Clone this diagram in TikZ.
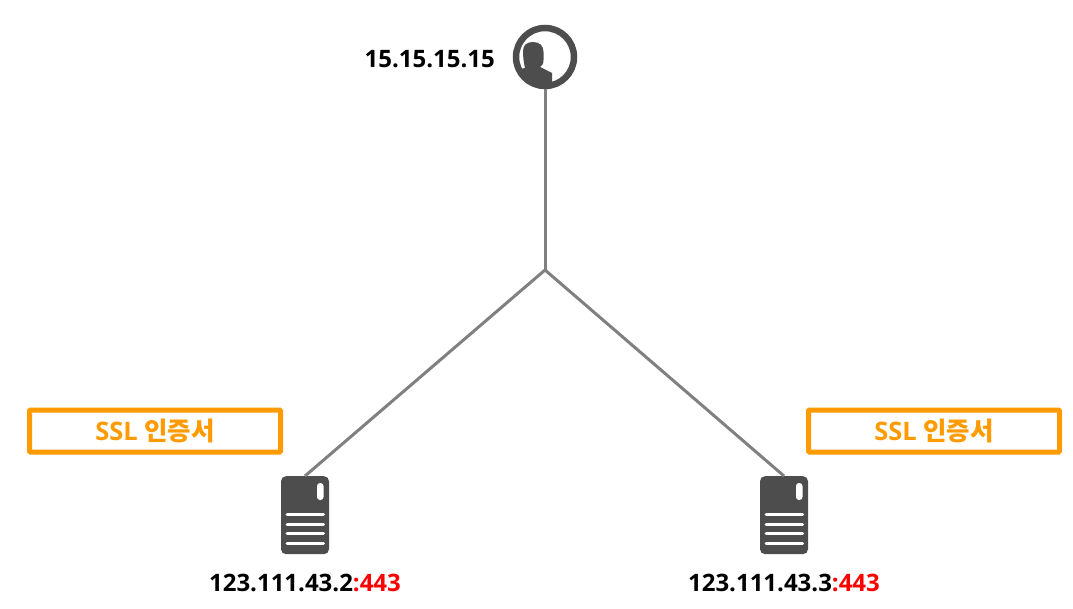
\documentclass[tikz,border=0pt]{standalone}
\usepackage{fontspec}
\setmainfont{Open Sans}
\newfontfamily\cjk{Noto Sans CJK KR}
\definecolor{ico}{HTML}{4D4D4D}
\definecolor{conn}{HTML}{808080}
\definecolor{cert}{HTML}{FF9B00}
\tikzset{
  conn/.style={draw=conn,line width=3pt},
  certbox/.style={draw=cert,line width=5pt,rounded corners=1pt,fill=white,minimum width=251pt,minimum height=42pt,inner sep=0pt,text=cert,font=\fontsize{25.5}{28}\selectfont\bfseries},
  iplabel/.style={inner sep=0pt,font=\fontsize{24}{26}\selectfont\bfseries,text=black},
  srv/.style={fill=ico,draw=none,rounded corners=5pt,minimum width=48pt,minimum height=78pt,inner sep=0pt},
  usr/.style={circle,draw=ico,line width=6.5pt,minimum size=58pt,inner sep=0pt,fill=white},
}
\begin{document}
\begin{tikzpicture}[x=1pt,y=-1pt]
\useasboundingbox (0,0) rectangle (1073,608);
\coordinate (fork) at (545,270);
\node[usr] (user) at (545,57) {};
\begin{scope}
  \clip (545,57) circle (29pt);
  \fill[ico] (525,68) .. controls (523.5,62) and (523,56) .. (523,51) .. controls (523,45) and (527,42) .. (533,42)
    .. controls (540,42) and (543.5,46) .. (543.5,52) -- (543.5,60) .. controls (543.5,64) and (542,66) .. (540,67)
    -- (552,73) -- (552,90) -- (510,90) -- (510,71) -- cycle;
\end{scope}
\node[srv,anchor=north] (s1) at (305,476) {};
\node[srv,anchor=north] (s2) at (784,476) {};
\fill[white,rounded corners=3pt] (317,483) rectangle (323.5,500);
\fill[white,rounded corners=3pt] (796,483) rectangle (802.5,500);
\foreach \yy in {514,524,533,543}{
  \draw[white,line width=3pt,line cap=round] (287,\yy) -- (323.5,\yy);
  \draw[white,line width=3pt,line cap=round] (766,\yy) -- (802.5,\yy);
}
\draw[conn] (user.south) -- (fork);
\draw[conn] (fork) -- (s1.north);
\draw[conn] (fork) -- (s2.north);
\node[certbox] (c1) at (155,431) {SSL {\cjk 인증서}};
\node[certbox] (c2) at (934,431) {SSL {\cjk 인증서}};
\node[iplabel,anchor=east] (userip) at (495,59) {15.15.15.15};
\node[iplabel] (ip1) at (305,583) {123.111.43.2\textcolor{red}{:443}};
\node[iplabel] (ip2) at (784,583) {123.111.43.3\textcolor{red}{:443}};
\end{tikzpicture}
\end{document}
